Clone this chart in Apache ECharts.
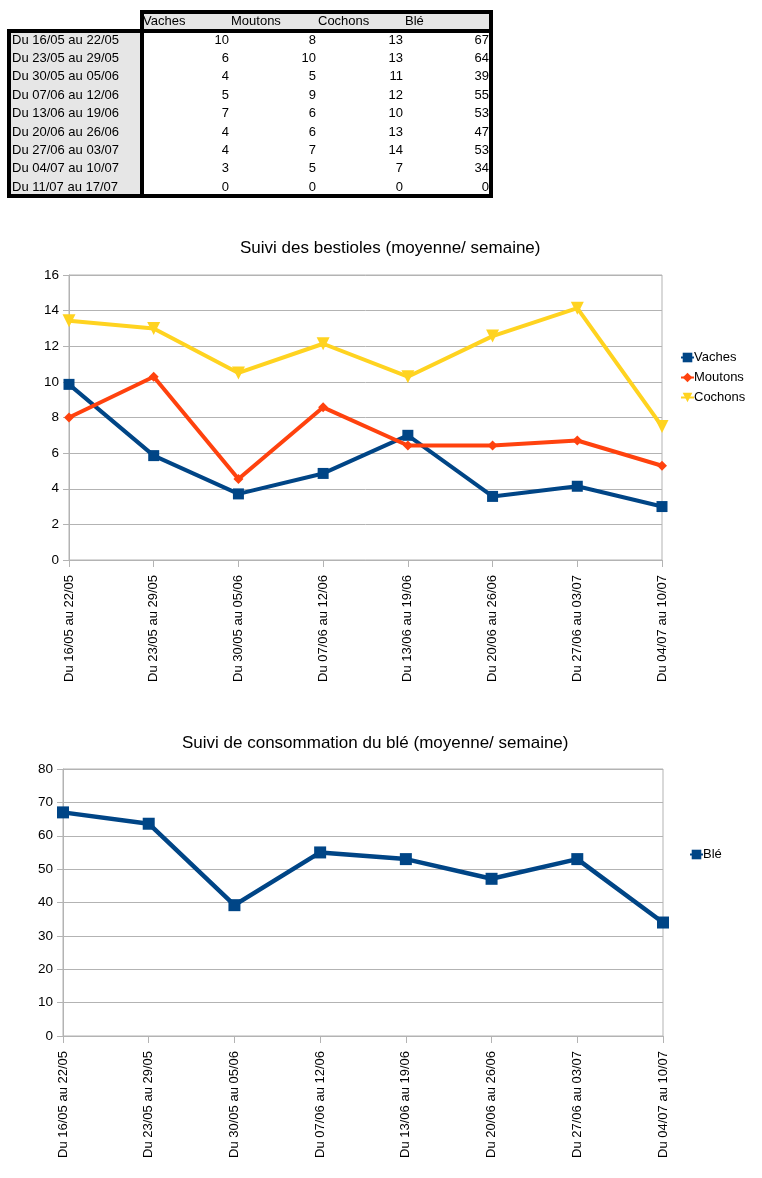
<!DOCTYPE html>
<html>
<head>
<meta charset="utf-8">
<script src="https://cdn.jsdelivr.net/npm/echarts@6/dist/echarts.min.js"></script>
<style>
  html, body { margin:0; padding:0; background:#fff; }
  body { width:762px; height:1178px; position:relative; overflow:hidden; font-family:'Liberation Sans', Arial, sans-serif; }
  #chart { position:absolute; left:0; top:0; width:762px; height:1178px; }
  #sheet { position:absolute; left:0; top:0; width:762px; height:210px; z-index:2; }
  .box { position:absolute; box-sizing:border-box; border:4px solid #000; }
  .t { position:absolute; font-size:13px; line-height:16px; height:16px; color:#000; white-space:nowrap; }
</style>
</head>
<body>
<div id="chart"></div>
<div id="sheet"></div>
<script>
// ---- spreadsheet data ----
var tableHeaders = ['Vaches', 'Moutons', 'Cochons', 'Blé'];
var tableRows = ['Du 16/05 au 22/05', 'Du 23/05 au 29/05', 'Du 30/05 au 05/06', 'Du 07/06 au 12/06',
                 'Du 13/06 au 19/06', 'Du 20/06 au 26/06', 'Du 27/06 au 03/07', 'Du 04/07 au 10/07', 'Du 11/07 au 17/07'];
var tableVaches  = [10, 6, 4, 5, 7, 4, 4, 3, 0];
var tableMoutons = [8, 10, 5, 9, 6, 6, 7, 5, 0];
var tableCochons = [13, 13, 11, 12, 10, 13, 14, 7, 0];
var tableBle     = [67, 64, 39, 55, 53, 47, 53, 34, 0];

// ---- chart data ----
var categories = ['Du 16/05 au 22/05', 'Du 23/05 au 29/05', 'Du 30/05 au 05/06', 'Du 07/06 au 12/06',
                  'Du 13/06 au 19/06', 'Du 20/06 au 26/06', 'Du 27/06 au 03/07', 'Du 04/07 au 10/07'];
var vaches  = [9.86, 5.86, 3.71, 4.86, 7.0, 3.57, 4.14, 3.0];
var moutons = [8.0, 10.29, 4.55, 8.57, 6.43, 6.43, 6.71, 5.29];
var cochons = [13.43, 13.0, 10.5, 12.14, 10.29, 12.57, 14.14, 7.5];
var ble     = [67, 63.6, 39.2, 55, 53, 47.1, 53, 34];

var title1 = 'Suivi des bestioles (moyenne/ semaine)';
var title2 = 'Suivi de consommation du blé (moyenne/ semaine)';

// ---- build spreadsheet ----
(function () {
  var s = document.getElementById('sheet');
  function box(l, t, w, h, bg) {
    var d = document.createElement('div');
    d.className = 'box';
    d.style.left = l + 'px'; d.style.top = t + 'px';
    d.style.width = w + 'px'; d.style.height = h + 'px';
    d.style.background = bg;
    s.appendChild(d);
    return d;
  }
  function txt(str, l, top, w, align) {
    var d = document.createElement('div');
    d.className = 't';
    d.textContent = str;
    d.style.left = l + 'px'; d.style.top = top + 'px';
    d.style.width = w + 'px'; d.style.textAlign = align;
    s.appendChild(d);
  }
  box(140, 29, 353, 169, '#ffffff');
  box(7, 29, 137, 169, '#e6e6e6');
  var hb = box(140, 10, 353, 23, '#e6e6e6');
  hb.style.overflow = 'hidden';
  var colStarts = [143, 231, 318, 405];
  var colEnds = [229, 316, 403, 489];
  for (var c = 0; c < tableHeaders.length; c++) {
    txt(tableHeaders[c], colStarts[c], 13, 80, 'left');
  }
  var cols = [tableVaches, tableMoutons, tableCochons, tableBle];
  for (var r = 0; r < tableRows.length; r++) {
    var top = Math.round(31.5 + r * 18.4);
    txt(tableRows[r], 12, top, 128, 'left');
    for (var k = 0; k < cols.length; k++) {
      txt(String(cols[k][r]), colEnds[k] - 60, top, 60, 'right');
    }
  }
})();

// ---- charts ----
var chart = echarts.init(document.getElementById('chart'), null, { renderer: 'canvas' });
var gridColor = '#b3b3b3';
var font = 'Liberation Sans';

function xAxisDef(gi) {
  return {
    type: 'category', gridIndex: gi, data: categories, boundaryGap: false,
    axisLine: { lineStyle: { color: gridColor, width: 1 } },
    axisTick: { show: true, length: 7, lineStyle: { color: gridColor } },
    axisLabel: { rotate: 90, margin: 15, fontSize: 13, color: '#000', fontFamily: font, interval: 0 },
    splitLine: { show: false }
  };
}
function yAxisDef(gi, max, interval) {
  return {
    type: 'value', gridIndex: gi, min: 0, max: max, interval: interval,
    axisLine: { show: true, lineStyle: { color: gridColor, width: 1 } },
    axisTick: { show: true, length: 6, lineStyle: { color: gridColor } },
    axisLabel: { fontSize: 13.5, color: '#000', fontFamily: font, margin: 10 },
    splitLine: { show: true, lineStyle: { color: gridColor, width: 1 } }
  };
}

var option = {
  animation: false,
  backgroundColor: '#ffffff',
  textStyle: { fontFamily: font },
  title: [
    { text: title1, left: 240, top: 240, padding: 0,
      textStyle: { fontSize: 17, fontWeight: 'normal', color: '#000', fontFamily: font } },
    { text: title2, left: 182, top: 735, padding: 0,
      textStyle: { fontSize: 17, fontWeight: 'normal', color: '#000', fontFamily: font } }
  ],
  legend: [
    { data: ['Vaches', 'Moutons', 'Cochons'], orient: 'vertical', left: 680, top: 351, padding: 0,
      itemWidth: 13, itemHeight: 12, itemGap: 7,
      textStyle: { fontSize: 13, color: '#000', fontFamily: font, padding: [0, 0, 0, -5] } },
    { data: ['Blé'], orient: 'vertical', left: 689, top: 848, padding: 0,
      itemWidth: 13, itemHeight: 12,
      textStyle: { fontSize: 13, color: '#000', fontFamily: font, padding: [0, 0, 0, -5] } }
  ],
  grid: [
    { left: 69, top: 275, width: 593, height: 285, show: true, borderColor: gridColor, borderWidth: 1, containLabel: false },
    { left: 63, top: 769, width: 600, height: 267, show: true, borderColor: gridColor, borderWidth: 1, containLabel: false }
  ],
  xAxis: [xAxisDef(0), xAxisDef(1)],
  yAxis: [yAxisDef(0, 16, 2), yAxisDef(1, 80, 10)],
  series: [
    { name: 'Vaches', type: 'line', xAxisIndex: 0, yAxisIndex: 0, data: vaches,
      color: '#004586', lineStyle: { width: 4, color: '#004586' },
      symbol: 'rect', symbolSize: 11, itemStyle: { color: '#004586' } },
    { name: 'Moutons', type: 'line', xAxisIndex: 0, yAxisIndex: 0, data: moutons,
      color: '#ff420e', lineStyle: { width: 4, color: '#ff420e' },
      symbol: 'diamond', symbolSize: 10, itemStyle: { color: '#ff420e' } },
    { name: 'Cochons', type: 'line', xAxisIndex: 0, yAxisIndex: 0, data: cochons,
      color: '#ffd320', lineStyle: { width: 4, color: '#ffd320' },
      symbol: 'triangle', symbolRotate: 180, symbolSize: 13, itemStyle: { color: '#ffd320' } },
    { name: 'Blé', type: 'line', xAxisIndex: 1, yAxisIndex: 1, data: ble,
      color: '#004586', lineStyle: { width: 4.5, color: '#004586' },
      symbol: 'rect', symbolSize: 12, itemStyle: { color: '#004586' } }
  ]
};
chart.setOption(option);
</script>
</body>
</html>
